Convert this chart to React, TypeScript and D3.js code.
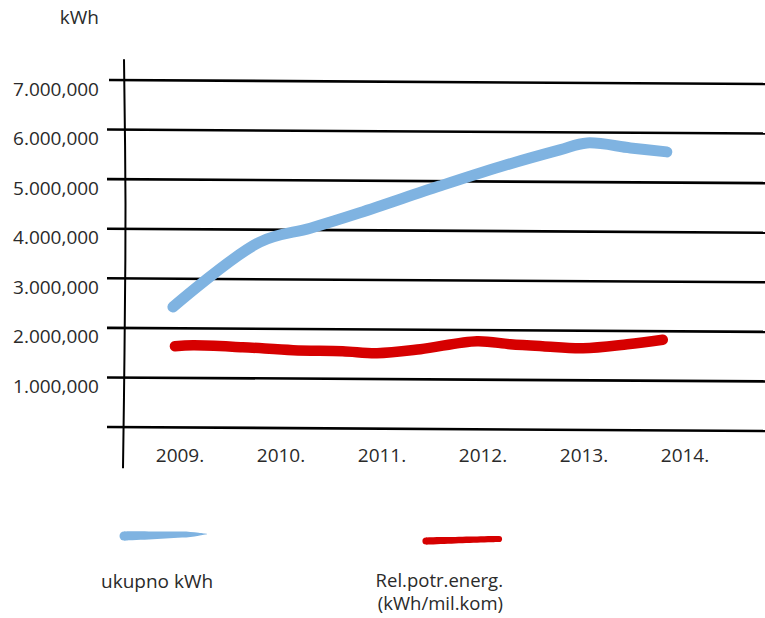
import * as d3 from "d3"

// y-axis ticks as printed on the chart (mixed separators kept as in the source)
const tickValues = [1000000, 2000000, 3000000, 4000000, 5000000, 6000000, 7000000]
const tickLabels = ["1.000,000", "2.000,000", "3.000,000", "4.000,000", "5.000,000", "6.000,000", "7.000,000"]
const years = [2009, 2010, 2011, 2012, 2013, 2014]

// hand-drawn traces (year position, kWh)
const ukupnoYears = [2008.93, 2009.79, 2010.29, 2010.78, 2011.57, 2012.17, 2012.76, 2013.03, 2013.46, 2013.82]
const ukupnoKwh = [2420000, 3730000, 4010000, 4320000, 4860000, 5250000, 5590000, 5730000, 5630000, 5550000]
const relYears = [2008.95, 2009.13, 2009.62, 2010.12, 2010.61, 2010.95, 2011.38, 2011.94, 2012.27, 2012.59, 2012.99, 2013.43, 2013.78]
const relKwh = [1630000, 1650000, 1610000, 1550000, 1530000, 1490000, 1570000, 1730000, 1670000, 1630000, 1590000, 1670000, 1760000]

const BLUE = "#7fb3e1"
const RED = "#d60000"
const FONT = "'Open Sans', 'Noto Sans', sans-serif"
const TEXT = "#2a2a2a"
const WEIGHT = 400

export default function App() {
  const width = 765
  const height = 618
  const x = d3.scaleLinear().domain([2009, 2014]).range([180, 685])
  const y = d3.scaleLinear().domain([0, 7000000]).range([427, 80])
  const slant = 4 // gridlines drop a little towards the right

  const line = d3.line<[number, number]>()
    .x((d) => x(d[0]))
    .y((d) => y(d[1]))
    .curve(d3.curveCatmullRom.alpha(0.5))

  const blue = line(ukupnoYears.map((v, i) => [v, ukupnoKwh[i]]))
  const red = line(relYears.map((v, i) => [v, relKwh[i]]))

  const axisLine = d3.line<[number, number]>().curve(d3.curveCatmullRom)([
    [124, y(7420000)], [125.5, y(4500000)], [124.5, y(1500000)], [123, y(-830000)],
  ])

  // tapered legend strokes, width follows a profile along the stroke
  const taper = (x0: number, x1: number, yc0: number, yc1: number, widths: number[]) => {
    const n = widths.length - 1
    const area = d3.area<number>()
      .x((_, i) => x0 + (x1 - x0) * i / n)
      .y0((w, i) => yc0 + (yc1 - yc0) * i / n - w / 2)
      .y1((w, i) => yc0 + (yc1 - yc0) * i / n + w / 2)
      .curve(d3.curveCatmullRom)
    return area(widths) as string
  }

  return (
    <svg width={width} height={height} style={{ display: "block", position: "absolute", left: 0, top: 0 }}>
      <rect width={width} height={height} fill="white" />
      <text x={99} y={24} textAnchor="end" fontFamily={FONT} fontWeight={WEIGHT} fontSize={19} fill={TEXT}>kWh</text>

      {[0, ...tickValues].map((v, i) => (
        <line key={v} x1={i === 7 ? 109 : 107} x2={765} y1={y(v)} y2={y(v) + slant}
          stroke="#000" strokeWidth={2.6} />
      ))}
      <path d={axisLine as string} fill="none" stroke="#000" strokeWidth={2} />

      {tickValues.map((v, i) => (
        <text key={v} x={99} y={y(v) + 8.5} dominantBaseline="central" textAnchor="end"
          fontFamily={FONT} fontWeight={WEIGHT} fontSize={19} fill={TEXT}>{tickLabels[i]}</text>
      ))}
      {years.map((yr) => (
        <text key={yr} x={x(yr)} y={462} textAnchor="middle" fontFamily={FONT} fontWeight={WEIGHT} fontSize={19} fill={TEXT}>{yr}.</text>
      ))}

      <path d={blue as string} fill="none" stroke={BLUE} strokeWidth={11} strokeLinecap="round" strokeLinejoin="round" />
      <path d={red as string} fill="none" stroke={RED} strokeWidth={10.5} strokeLinecap="round" strokeLinejoin="round" />

      <circle cx={124} cy={536} r={4.5} fill={BLUE} />
      <path d={taper(124, 207, 536, 534, [9, 9, 8.5, 8, 7.5, 7, 6.5, 6, 5, 3, 0.5])} fill={BLUE} />
      <circle cx={426} cy={541} r={3.6} fill={RED} />
      <circle cx={499} cy={539} r={3.1} fill={RED} />
      <path d={taper(426, 499, 541, 539, [7.2, 7.2, 7, 6.8, 6.6, 6.5, 6.4, 6.3, 6.2, 6.2, 6.2])} fill={RED} />

      <text x={101} y={588} fontFamily={FONT} fontWeight={WEIGHT} fontSize={19} fill={TEXT}>ukupno kWh</text>
      <text x={503} y={587} textAnchor="end" fontFamily={FONT} fontWeight={WEIGHT} fontSize={18.5} fill={TEXT}>Rel.potr.energ.</text>
      <text x={503} y={610} textAnchor="end" fontFamily={FONT} fontWeight={WEIGHT} fontSize={18.5} fill={TEXT}>(kWh/mil.kom)</text>
    </svg>
  )
}
